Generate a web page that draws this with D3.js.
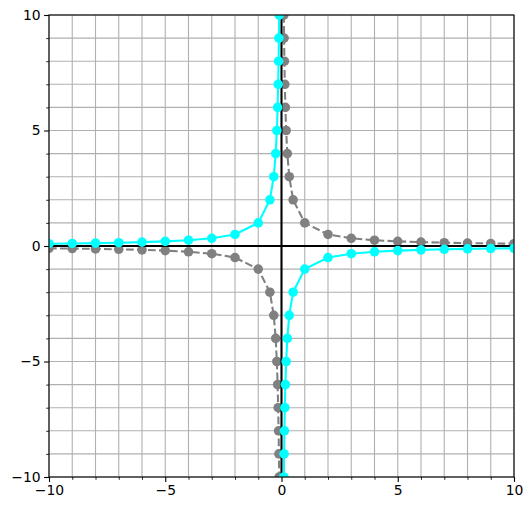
<!DOCTYPE html>
<html><head><meta charset="utf-8">
<script src="https://cdn.jsdelivr.net/npm/d3@7"></script>
<style>body{margin:0;background:#fff}svg{display:block}</style>
</head><body>
<svg id="c" width="532" height="511"></svg>
<script>
// x values: integers and reciprocals of integers
const xNeg = [-10,-9,-8,-7,-6,-5,-4,-3,-2,-1,-1/2,-1/3,-1/4,-1/5,-1/6,-1/7,-1/8,-1/9,-1/10];
const xPos = [1/10,1/9,1/8,1/7,1/6,1/5,1/4,1/3,1/2,1,2,3,4,5,6,7,8,9,10];
// y values (gray: y = 1/x, cyan: y = -1/x)
const grayNeg = [-0.1,-0.111,-0.125,-0.143,-0.167,-0.2,-0.25,-0.333,-0.5,-1,-2,-3,-4,-5,-6,-7,-8,-9,-10];
const grayPos = [10,9,8,7,6,5,4,3,2,1,0.5,0.333,0.25,0.2,0.167,0.143,0.125,0.111,0.1];
const cyanNeg = [0.1,0.111,0.125,0.143,0.167,0.2,0.25,0.333,0.5,1,2,3,4,5,6,7,8,9,10];
const cyanPos = [-10,-9,-8,-7,-6,-5,-4,-3,-2,-1,-0.5,-0.333,-0.25,-0.2,-0.167,-0.143,-0.125,-0.111,-0.1];
const majorTicks = [-10,-5,0,5,10];
const minorTicks = d3.range(-10,11,1);

const svg = d3.select("#c");
const L=49, R=514, T=15, B=477;
const x = d3.scaleLinear().domain([-10,10]).range([L,R]);
const y = d3.scaleLinear().domain([-10,10]).range([B,T]);

svg.append("defs").append("clipPath").attr("id","clip")
  .append("rect").attr("x",L).attr("y",T).attr("width",R-L).attr("height",B-T);

// grid
const g = svg.append("g");
g.selectAll(".gx").data(minorTicks).join("line")
  .attr("x1",d=>x(d)).attr("x2",d=>x(d)).attr("y1",T).attr("y2",B)
  .attr("stroke","#b0b0b0").attr("stroke-width",1.1);
g.selectAll(".gy").data(minorTicks).join("line")
  .attr("y1",d=>y(d)).attr("y2",d=>y(d)).attr("x1",L).attr("x2",R)
  .attr("stroke","#b0b0b0").attr("stroke-width",1.1);

const plot = svg.append("g").attr("clip-path","url(#clip)");
const line = d3.line().x(d=>x(d[0])).y(d=>y(d[1]));

function series(xs, ys, color, dash){
  const pts = xs.map((v,i)=>[v,ys[i]]);
  plot.append("path").datum(pts).attr("d",line).attr("fill","none")
    .attr("stroke",color).attr("stroke-width",2.08)
    .attr("stroke-dasharray",dash||null);
  plot.append("g").selectAll("circle").data(pts).join("circle")
    .attr("cx",d=>x(d[0])).attr("cy",d=>y(d[1])).attr("r",4.8).attr("fill",color);
}
series(xNeg, grayNeg, "#808080", "7.7,3.3");
series(xPos, grayPos, "#808080", "7.7,3.3");

// zero lines
plot.append("line").attr("x1",L).attr("x2",R).attr("y1",y(0)).attr("y2",y(0))
  .attr("stroke","#000").attr("stroke-width",2.08);
plot.append("line").attr("y1",T).attr("y2",B).attr("x1",x(0)).attr("x2",x(0))
  .attr("stroke","#000").attr("stroke-width",2.08);

series(xNeg, cyanNeg, "#00ffff");
series(xPos, cyanPos, "#00ffff");

// axes
const fmt = d=>d<0 ? "\u2212"+Math.abs(d) : String(d);
const xa = d3.axisBottom(x).tickValues(majorTicks).tickFormat(fmt).tickSize(4.9).tickPadding(3.5);
const ya = d3.axisLeft(y).tickValues(majorTicks).tickFormat(fmt).tickSize(4.9).tickPadding(3.5);
const xm = d3.axisBottom(x).tickValues(minorTicks.filter(d=>d%5!==0)).tickFormat("").tickSize(2.8);
const ym = d3.axisLeft(y).tickValues(minorTicks.filter(d=>d%5!==0)).tickFormat("").tickSize(2.8);
function style(sel, w){
  sel.select(".domain").remove();
  sel.selectAll("line").attr("stroke","#000").attr("stroke-width",w);
  sel.selectAll("text").attr("font-family","DejaVu Sans").attr("font-size","13.9px").attr("fill","#000");
}
svg.append("g").attr("transform",`translate(0,${B})`).call(xa).call(s=>style(s,1.1));
svg.append("g").attr("transform",`translate(${L},0)`).call(ya).call(s=>style(s,1.1));
svg.append("g").attr("transform",`translate(0,${B})`).call(xm).call(s=>style(s,0.83));
svg.append("g").attr("transform",`translate(${L},0)`).call(ym).call(s=>style(s,0.83));

// spines
svg.append("rect").attr("x",L).attr("y",T).attr("width",R-L).attr("height",B-T)
  .attr("fill","none").attr("stroke","#000").attr("stroke-width",1.1);
</script>
</body></html>
